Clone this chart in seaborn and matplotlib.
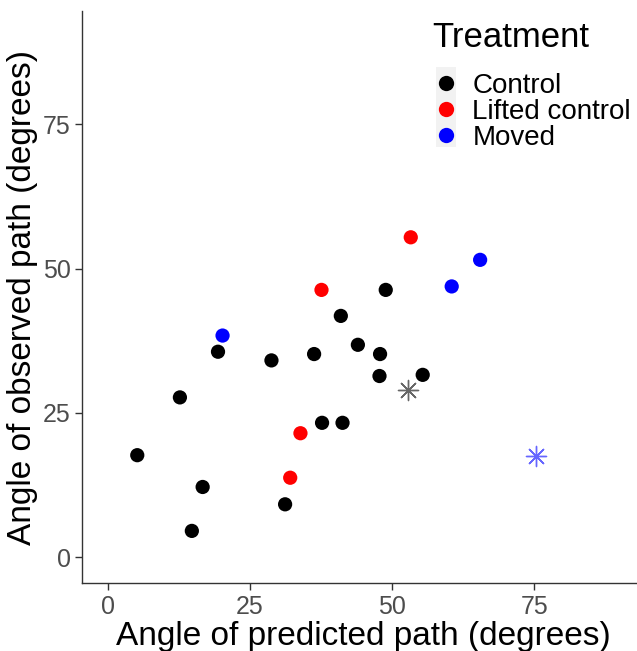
import matplotlib
matplotlib.use("Agg")
import matplotlib.pyplot as plt
import seaborn as sns
import pandas as pd
from matplotlib.patches import Rectangle

# ---- data ----
control_x = [5.2, 12.7, 19.4, 14.8, 16.7, 28.8, 31.2, 36.3, 37.7, 41.3, 41.0, 44.0, 47.9, 47.8, 48.9, 55.4]
control_y = [17.7, 27.7, 35.6, 4.6, 12.2, 34.1, 9.2, 35.2, 23.3, 23.3, 41.8, 36.8, 35.2, 31.4, 46.3, 31.6]
lifted_x = [53.3, 37.6, 33.9, 32.1]
lifted_y = [55.4, 46.3, 21.5, 13.8]
moved_x = [20.2, 65.5, 60.5]
moved_y = [38.4, 51.5, 46.9]
star_x = [52.8, 75.3]
star_y = [29.0, 17.5]
star_group = ["Control", "Moved"]

treatments = ["Control", "Lifted control", "Moved"]
palette = {"Control": "#000000", "Lifted control": "#FF0000", "Moved": "#0000FF"}
x_ticks = [0, 25, 50, 75]
y_ticks = [0, 25, 50, 75]

df = pd.DataFrame({
    "x": control_x + lifted_x + moved_x,
    "y": control_y + lifted_y + moved_y,
    "Treatment": ["Control"] * len(control_x) + ["Lifted control"] * len(lifted_x) + ["Moved"] * len(moved_x),
})
df_star = pd.DataFrame({"x": star_x, "y": star_y, "Treatment": star_group})

sns.set_theme(style="white")
plt.rcParams["font.family"] = ["Liberation Sans", "DejaVu Sans"]
plt.rcParams["text.color"] = "black"
plt.rcParams["axes.labelcolor"] = "black"

fig = plt.figure(figsize=(6.37, 6.51), dpi=100)
ax = fig.add_axes([0.1289, 0.1037, 0.8837, 0.8789])

sns.scatterplot(data=df, x="x", y="y", hue="Treatment", hue_order=treatments,
                palette=palette, s=105, linewidth=0, ax=ax, legend=True, zorder=3)

for _, r in df_star.iterrows():
    ax.scatter([r["x"]], [r["y"]], marker=(8, 2, 0), s=210, c=palette[r["Treatment"]],
               alpha=0.6, linewidths=1.0, zorder=3)

ax.set_xlim(-4.5, 94.5)
ax.set_ylim(-4.5, 94.5)
ax.set_xticks(x_ticks)
ax.set_yticks(y_ticks)
ax.set_xlabel("Angle of predicted path (degrees)", fontsize=24, color="black", labelpad=2)
ax.set_ylabel("Angle of observed path (degrees)", fontsize=24, color="black", labelpad=4)

for s in ["top", "right"]:
    ax.spines[s].set_visible(False)
for s in ["left", "bottom"]:
    ax.spines[s].set_color("#333333")
    ax.spines[s].set_linewidth(1.0)
ax.tick_params(bottom=True, left=True, length=5, width=1, color="#333333",
               labelcolor="#4D4D4D", labelsize=18, pad=3)

handles, labels = ax.get_legend_handles_labels()
leg = ax.legend(handles, labels, title="Treatment", loc="upper left",
                bbox_to_anchor=(432 / 637, 1 - 21 / 651), bbox_transform=fig.transFigure,
                frameon=False, fontsize=20, title_fontsize=25, handlelength=1.0,
                handletextpad=0.45, labelspacing=0.0, borderpad=0, borderaxespad=0,
                alignment="left")
leg._legend_box.sep = 13.5
for h in leg.legend_handles:
    h.set_markersize(11)
for t in leg.get_texts():
    t.set_color("black")
leg.get_title().set_color("black")

rect = Rectangle((436 / 637, 1 - 147 / 651), 20 / 637, 80 / 651, transform=fig.transFigure,
                 facecolor="#F2F2F2", edgecolor="none", zorder=4, clip_on=False)
ax.add_artist(rect)

fig.savefig("out.png", dpi=100)
